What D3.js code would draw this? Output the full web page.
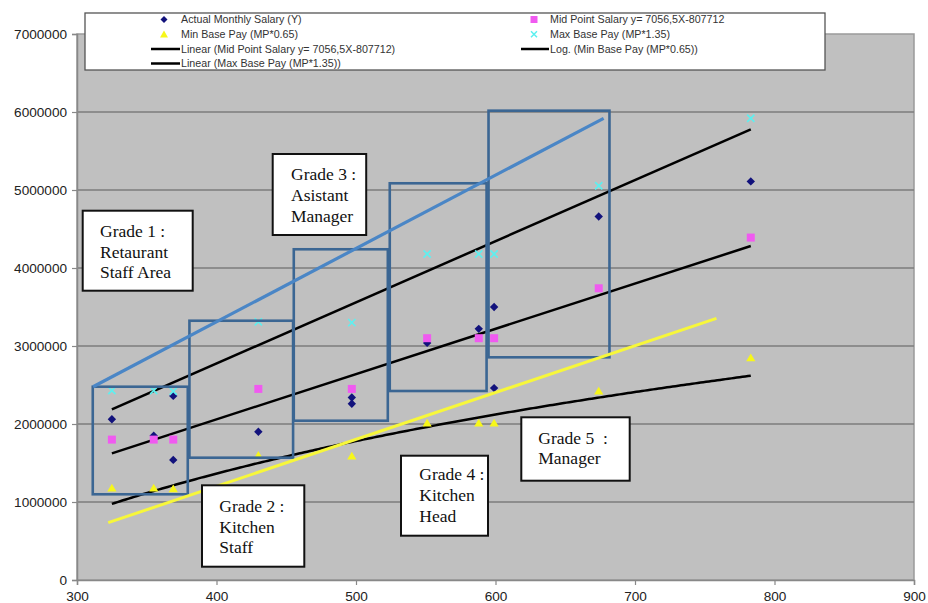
<!DOCTYPE html>
<html>
<head>
<meta charset="utf-8">
<script src="https://cdn.jsdelivr.net/npm/d3@7"></script>
<style>
  html, body { margin: 0; padding: 0; background: #ffffff; }
  svg { display: block; }
</style>
</head>
<body>
<svg id="chart" width="928" height="603"></svg>
<script>
// ---------------- DATA ----------------
const xTicks = [300, 400, 500, 600, 700, 800, 900];
const yTicks = [0, 1000000, 2000000, 3000000, 4000000, 5000000, 6000000, 7000000];

// Grade points (X = job value score)
const gradeX   = [325, 355, 369, 430, 497, 551, 588, 599, 674, 783];
const midPoint = [1800000, 1800000, 1800000, 2450000, 2450000, 3100000, 3100000, 3100000, 3740000, 4390000];
const maxBase  = [2430000, 2430000, 2420000, 3310000, 3300000, 4180000, 4180000, 4180000, 5055000, 5920000];
const minBase  = [1180000, 1180000, 1170000, 1600000, 1590000, 2015000, 2015000, 2015000, 2425000, 2850000];

// Actual monthly salary (Y)
const actualX = [325, 355, 369, 369, 430, 497, 497, 551, 588, 599, 599, 674, 783];
const actualY = [2060000, 1850000, 2360000, 1540000, 1900000, 2340000, 2260000, 3040000, 3220000, 3500000, 2460000, 4660000, 5110000];

// Trend lines (as drawn)
const linearMidTrend = [[325, 1624000], [783, 4282000]];
const linearMaxTrend = [[325, 2188000], [783, 5778000]];
const logMinTrend = { a: 1868000, b: -9828000, from: 325, to: 783 }; // y = a*ln(x) + b

// Hand-drawn lines
const blueLine   = [[311.5, 2478000], [677.5, 5919000]];
const yellowLine = [[322.4, 735000], [758.4, 3355000]];

// Grade range boxes [x0, x1, yLow, yHigh]
const gradeBoxes = [
  [311.3, 379.4, 1099000, 2478000],
  [380.6, 454.9, 1568000, 3324000],
  [455.4, 522.8, 2042000, 4240000],
  [524.2, 593.6, 2423000, 5086000],
  [595.0, 681.7, 2855000, 6017000]
];

// Annotation texts
const gradeLabels = [
  ["Grade 1 :", "Retaurant", "Staff Area"],
  ["Grade 3 :", "Asistant", "Manager"],
  ["Grade 2 :", "Kitchen", "Staff"],
  ["Grade 4 :", "Kitchen", "Head"],
  ["Grade 5  :", "Manager"]
];

const legendCol1 = ["Actual Monthly Salary (Y)", "Min Base Pay (MP*0.65)", "Linear (Mid Point Salary y= 7056,5X-807712)", "Linear (Max Base Pay (MP*1.35))"];
const legendCol2 = ["Mid Point Salary y= 7056,5X-807712", "Max Base Pay (MP*1.35)", "Log. (Min Base Pay (MP*0.65))"];

// ---------------- LAYOUT ----------------
const plot = { left: 77, right: 914, top: 34, bottom: 580 };
const annoLayout = [
  { box: [82.7, 210.7, 110, 80], tx: 100, ty: [236.7, 257.5, 278.3] },
  { box: [272.7, 154, 93.5, 81], tx: 291, ty: [180, 201, 221.7] },
  { box: [202, 485.3, 102.3, 81.4], tx: 219.3, ty: [511.7, 532.7, 552.7] },
  { box: [401, 455.7, 87, 80], tx: 419.3, ty: [480, 501, 521.7] },
  { box: [521.3, 417.3, 108.4, 63.4], tx: 538.3, ty: [444.3, 464.3] }
];

const C = {
  plotBg: "#c0c0c0",
  grid: "#7c7c7c",
  axis: "#888888",
  navy: "#12127c",
  pink: "#f05af0",
  yellowMark: "#f7f71a",
  cyan: "#5cf0f0",
  box: "#3b6693",
  blue: "#4a86c6",
  yellowLine: "#f7f73a",
  text: "#222222"
};

// ---------------- DRAW ----------------
const svg = d3.select("#chart");
const x = d3.scaleLinear().domain([300, 900]).range([plot.left, plot.right]);
const y = d3.scaleLinear().domain([0, 7000000]).range([plot.bottom, plot.top]);

// plot background
svg.append("rect")
  .attr("x", plot.left).attr("y", plot.top)
  .attr("width", plot.right - plot.left).attr("height", plot.bottom - plot.top)
  .attr("fill", C.plotBg).attr("stroke", "#9a9a9a").attr("stroke-width", 1.5);

// gridlines
svg.append("g").selectAll("line")
  .data(yTicks.filter(d => d > 0 && d < 7000000))
  .join("line")
  .attr("x1", plot.left).attr("x2", plot.right)
  .attr("y1", d => y(d)).attr("y2", d => y(d))
  .attr("stroke", C.grid).attr("stroke-width", 1.5);

// axes
const yAxis = d3.axisLeft(y).tickValues(yTicks).tickFormat(d3.format("d")).tickSize(5).tickPadding(5);
const gy = svg.append("g").attr("transform", `translate(${plot.left},0)`).call(yAxis);
const xAxis = d3.axisBottom(x).tickValues(xTicks).tickFormat(d3.format("d")).tickSize(5).tickPadding(6);
const gx = svg.append("g").attr("transform", `translate(0,${plot.bottom})`).call(xAxis);
[gx, gy].forEach(g => {
  g.select(".domain").attr("stroke", C.axis).attr("stroke-width", 1.5);
  g.selectAll(".tick line").attr("stroke", C.axis).attr("stroke-width", 1.2);
  g.selectAll(".tick text")
    .attr("fill", C.text)
    .attr("font-family", "Liberation Sans, Arial, sans-serif")
    .attr("font-size", "13.6px");
});
gy.selectAll(".tick text").attr("x", -10);

// trend lines
const line = d3.line().x(d => x(d[0])).y(d => y(d[1]));
[linearMaxTrend, linearMidTrend].forEach(t => {
  svg.append("path").attr("d", line(t)).attr("fill", "none")
    .attr("stroke", "#000").attr("stroke-width", 2.5);
});
const logPts = d3.range(logMinTrend.from, logMinTrend.to + 0.1, 2)
  .map(v => [v, logMinTrend.a * Math.log(v) + logMinTrend.b]);
svg.append("path").attr("d", line(logPts)).attr("fill", "none")
  .attr("stroke", "#000").attr("stroke-width", 2.5);

// markers
const diamond = "M0,-4.2L4.2,0L0,4.2L-4.2,0Z";
const square = "M-4,-4H4V4H-4Z";
const triangle = "M0,-4.2L4.6,3.6L-4.6,3.6Z";
const xMark = "M-3.6,-3.6L3.6,3.6M3.6,-3.6L-3.6,3.6";

svg.append("g").selectAll("path").data(actualX.map((v, i) => [v, actualY[i]]))
  .join("path").attr("d", diamond).attr("fill", C.navy)
  .attr("transform", d => `translate(${x(d[0])},${y(d[1])})`);
svg.append("g").selectAll("path").data(gradeX.map((v, i) => [v, midPoint[i]]))
  .join("path").attr("d", square).attr("fill", C.pink)
  .attr("transform", d => `translate(${x(d[0])},${y(d[1])})`);
svg.append("g").selectAll("path").data(gradeX.map((v, i) => [v, minBase[i]]))
  .join("path").attr("d", triangle).attr("fill", C.yellowMark)
  .attr("transform", d => `translate(${x(d[0])},${y(d[1])})`);
svg.append("g").selectAll("path").data(gradeX.map((v, i) => [v, maxBase[i]]))
  .join("path").attr("d", xMark).attr("fill", "none").attr("stroke", C.cyan).attr("stroke-width", 1.6)
  .attr("transform", d => `translate(${x(d[0])},${y(d[1])})`);

// grade boxes
svg.append("g").selectAll("rect").data(gradeBoxes).join("rect")
  .attr("x", d => x(d[0])).attr("y", d => y(d[3]))
  .attr("width", d => x(d[1]) - x(d[0])).attr("height", d => y(d[2]) - y(d[3]))
  .attr("fill", "none").attr("stroke", C.box).attr("stroke-width", 2.6);

// hand drawn lines
svg.append("path").attr("d", line(blueLine)).attr("stroke", C.blue).attr("stroke-width", 3.2).attr("fill", "none");
svg.append("path").attr("d", line(yellowLine)).attr("stroke", C.yellowLine).attr("stroke-width", 3).attr("fill", "none");

// annotations
gradeLabels.forEach((lines, i) => {
  const L = annoLayout[i];
  const g = svg.append("g");
  g.append("rect").attr("x", L.box[0]).attr("y", L.box[1]).attr("width", L.box[2]).attr("height", L.box[3])
    .attr("fill", "#fff").attr("stroke", "#111").attr("stroke-width", 2);
  lines.forEach((t, j) => {
    g.append("text").attr("x", L.tx).attr("y", L.ty[j])
      .attr("font-family", "Liberation Serif, Times New Roman, serif")
      .attr("font-size", "17.5px").attr("fill", "#111")
      .attr("xml:space", "preserve").style("white-space", "pre")
      .text(t);
  });
});

// legend
const lg = svg.append("g");
lg.append("rect").attr("x", 85).attr("y", 13).attr("width", 740).attr("height", 57)
  .attr("fill", "#fff").attr("stroke", "#555").attr("stroke-width", 1.3);
const rowY = [19.5, 34.2, 49, 63.5];
const legendFont = { family: "Liberation Sans, Arial, sans-serif", size: "10.7px" };
function legText(tx, ty, t) {
  lg.append("text").attr("x", tx).attr("y", ty + 3.8).text(t)
    .attr("font-family", legendFont.family).attr("font-size", legendFont.size).attr("fill", "#333");
}
// column 1
lg.append("path").attr("d", "M0,-3.5L3.5,0L0,3.5L-3.5,0Z").attr("fill", C.navy).attr("transform", `translate(164,${rowY[0]})`);
lg.append("path").attr("d", "M0,-3.8L4,3.2L-4,3.2Z").attr("fill", C.yellowMark).attr("transform", `translate(164,${rowY[1]})`);
[2, 3].forEach(r => lg.append("line").attr("x1", 151).attr("x2", 180).attr("y1", rowY[r]).attr("y2", rowY[r]).attr("stroke", "#000").attr("stroke-width", 2.5));
legendCol1.forEach((t, i) => legText(181, rowY[i], t));
// column 2
lg.append("path").attr("d", "M-3.5,-3.5H3.5V3.5H-3.5Z").attr("fill", C.pink).attr("transform", `translate(534,${rowY[0]})`);
lg.append("path").attr("d", "M-3,-3L3,3M3,-3L-3,3").attr("stroke", C.cyan).attr("stroke-width", 1.5).attr("transform", `translate(534,${rowY[1]})`);
lg.append("line").attr("x1", 521).attr("x2", 549).attr("y1", rowY[2]).attr("y2", rowY[2]).attr("stroke", "#000").attr("stroke-width", 2.5);
legendCol2.forEach((t, i) => legText(550, rowY[i], t));
</script>
</body>
</html>
